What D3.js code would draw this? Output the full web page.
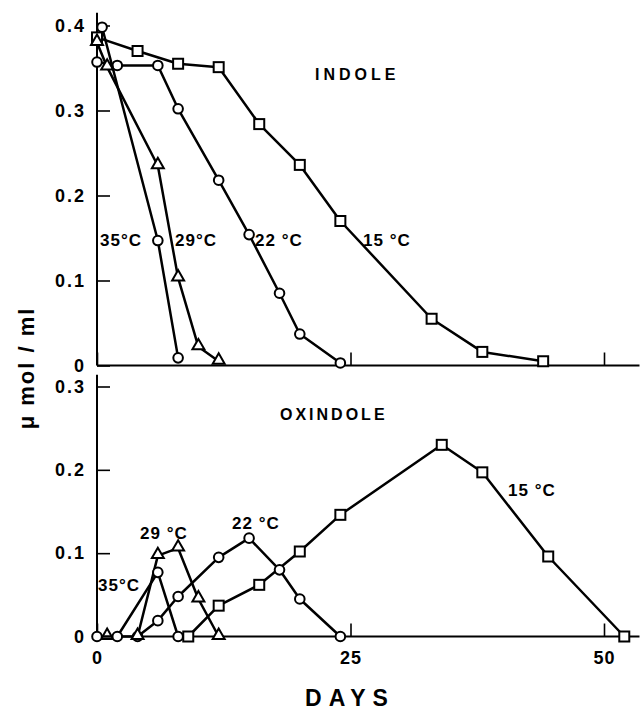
<!DOCTYPE html>
<html>
<head>
<meta charset="utf-8">
<script src="https://cdn.jsdelivr.net/npm/d3@7"></script>
<style>
  body { margin: 0; background: #fff; }
  text { font-family: "Liberation Sans", Arial, sans-serif; font-weight: bold; fill: #000; }
</style>
</head>
<body>
<div id="chart"></div>
<script>
// days / µmol per ml
var indole15 = [[0, 0.386], [4, 0.370], [8, 0.355], [12, 0.351], [16, 0.284], [20, 0.236], [24, 0.170], [33, 0.055], [38, 0.016], [44, 0.005]];
var indole22 = [[0, 0.357], [2, 0.353], [6, 0.353], [8, 0.302], [12, 0.218], [15, 0.154], [18, 0.085], [20, 0.037], [24, 0.003]];
var indole29 = [[0, 0.380], [1, 0.351], [6, 0.235], [8, 0.103], [10, 0.022], [12, 0.005]];
var indole35 = [[0.5, 0.398], [6, 0.147], [8, 0.009]];

var oxi15 = [[9, 0], [12, 0.037], [16, 0.062], [20, 0.102], [24, 0.146], [34, 0.230], [38, 0.197], [44.5, 0.096], [52, 0]];
var oxi22 = [[4, 0], [6, 0.019], [8, 0.048], [12, 0.095], [15, 0.118], [18, 0.080], [20, 0.045], [24, 0]];
var oxi29 = [[1, 0], [4, 0], [6, 0.097], [8, 0.106], [10, 0.045], [12, 0]];
var oxi35 = [[0, 0], [2, 0], [6, 0.077], [8, 0]];

var xTicks = [0, 25, 50];
var yTicksTop = [0, 0.1, 0.2, 0.3, 0.4];
var yTicksBottom = [0, 0.1, 0.2, 0.3];

var width = 642, height = 715;

var svg = d3.select("#chart").append("svg")
    .attr("width", width)
    .attr("height", height);

var x = d3.scaleLinear().domain([0, 50]).range([97, 604]);
var yTop = d3.scaleLinear().domain([0, 0.4]).range([365.5, 25.5]);
var yBot = d3.scaleLinear().domain([0, 0.3]).range([636.5, 386.5]);

function fmt(d) { return d === 0 ? "0" : d.toFixed(1); }

function drawPanel(y, yTicks, yMax, showXLabels) {
    var g = svg.append("g");

    // y axis, ticks pointing in
    var ya = g.append("g")
        .attr("transform", "translate(" + x(0) + ",0)")
        .call(d3.axisLeft(y).tickValues(yTicks).tickFormat(fmt)
            .tickSizeInner(-13).tickSizeOuter(0).tickPadding(11));
    ya.select(".domain").remove();
    ya.selectAll("line").attr("stroke", "#000").attr("stroke-width", 1.6);
    ya.selectAll("text")
        .style("font-size", "18px")
        .style("letter-spacing", "2px");

    g.append("line")
        .attr("x1", x(0)).attr("x2", x(0))
        .attr("y1", y(0)).attr("y2", y(yMax))
        .attr("stroke", "#000").attr("stroke-width", 2);

    // x axis
    var xa = g.append("g")
        .attr("transform", "translate(0," + y(0) + ")")
        .call(d3.axisBottom(x).tickValues(xTicks)
            .tickFormat(showXLabels ? d3.format("d") : "")
            .tickSizeInner(-13).tickSizeOuter(0).tickPadding(15));
    xa.select(".domain").remove();
    xa.selectAll("line").attr("stroke", "#000").attr("stroke-width", 1.6);
    xa.selectAll("text")
        .style("font-size", "18px")
        .style("letter-spacing", "1px");

    g.append("line")
        .attr("x1", x(0)).attr("x2", x(53.5))
        .attr("y1", y(0)).attr("y2", y(0))
        .attr("stroke", "#000").attr("stroke-width", 2);
    return g;
}

var gTop = drawPanel(yTop, yTicksTop, 0.415, false);
var gBot = drawPanel(yBot, yTicksBottom, 0.314, true);

function drawSeries(g, y, data, shape) {
    var line = d3.line()
        .x(function (d) { return x(d[0]); })
        .y(function (d) { return y(d[1]); });

    g.append("path")
        .datum(data)
        .attr("d", line)
        .attr("fill", "none")
        .attr("stroke", "#000")
        .attr("stroke-width", 2.5)
        .attr("stroke-linejoin", "round");

    var pts = g.selectAll(null).data(data).enter();
    if (shape === "circle") {
        pts.append("circle")
            .attr("cx", function (d) { return x(d[0]); })
            .attr("cy", function (d) { return y(d[1]); })
            .attr("r", 4.8)
            .attr("fill", "#fff").attr("stroke", "#000").attr("stroke-width", 2);
    } else if (shape === "square") {
        pts.append("rect")
            .attr("x", function (d) { return x(d[0]) - 5; })
            .attr("y", function (d) { return y(d[1]) - 5; })
            .attr("width", 10).attr("height", 10)
            .attr("fill", "#fff").attr("stroke", "#000").attr("stroke-width", 2);
    } else {
        pts.append("path")
            .attr("d", d3.symbol(d3.symbolTriangle, 62))
            .attr("transform", function (d) { return "translate(" + x(d[0]) + "," + (y(d[1]) - 1) + ")"; })
            .attr("fill", "#fff").attr("stroke", "#000").attr("stroke-width", 2);
    }
}

drawSeries(gTop, yTop, indole15, "square");
drawSeries(gTop, yTop, indole22, "circle");
drawSeries(gTop, yTop, indole29, "triangle");
drawSeries(gTop, yTop, indole35, "circle");

drawSeries(gBot, yBot, oxi15, "square");
drawSeries(gBot, yBot, oxi22, "circle");
drawSeries(gBot, yBot, oxi29, "triangle");
drawSeries(gBot, yBot, oxi35, "circle");

// annotations
function label(txt, px, py, size, spacing) {
    svg.append("text")
        .attr("x", px).attr("y", py)
        .style("font-size", size + "px")
        .style("letter-spacing", spacing + "px")
        .text(txt);
}

label("INDOLE", 315, 80, 16, 4);
label("35°C", 100, 246, 17, 1);
label("29°C", 175, 246, 17, 1);
label("22 °C", 255, 246, 17, 1);
label("15 °C", 363, 246, 17, 1);

label("OXINDOLE", 280, 420, 16, 3);
label("29 °C", 140, 539, 17, 1);
label("22 °C", 232, 529, 17, 1);
label("35°C", 98, 591, 17, 1);
label("15 °C", 508, 496, 17, 1);

svg.append("text")
    .attr("x", 350).attr("y", 706)
    .attr("text-anchor", "middle")
    .style("font-size", "23px")
    .style("letter-spacing", "7px")
    .text("DAYS");

svg.append("text")
    .attr("transform", "translate(34,368) rotate(-90)")
    .attr("text-anchor", "middle")
    .style("font-size", "22px")
    .style("letter-spacing", "2px")
    .text("μ mol / ml");
</script>
</body>
</html>
